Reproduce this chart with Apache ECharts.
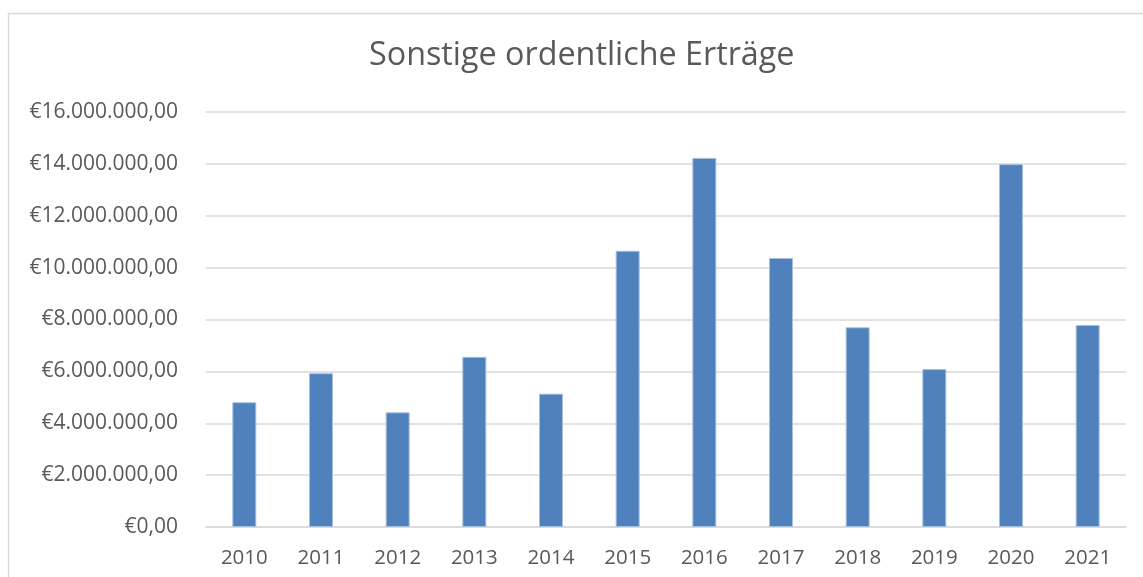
<!DOCTYPE html>
<html>
<head>
<meta charset="utf-8">
<script src="https://cdn.jsdelivr.net/npm/echarts@6/dist/echarts.min.js"></script>
<style>
html,body{margin:0;padding:0;background:#fff;}
#c{width:1143px;height:577px;}
</style>
</head>
<body>
<div id="c"></div>
<script>
const title = "Sonstige ordentliche Erträge";
const categories = ["2010","2011","2012","2013","2014","2015","2016","2017","2018","2019","2020","2021"];
const values = [4810000, 5930000, 4420000, 6560000, 5140000, 10650000, 14230000, 10370000, 7700000, 6090000, 13990000, 7790000];
const yMin = 0, yMax = 16000000, yStep = 2000000;

function euro(v){
  const s = Math.round(v).toString().replace(/\B(?=(\d{3})+(?!\d))/g, ".");
  return "€" + s + ",00";
}

const chart = echarts.init(document.getElementById('c'), null, {renderer:'canvas'});
chart.setOption({
  animation:false,
  backgroundColor:'#ffffff',
  title:{
    text:title, left:364, top:35,
    textStyle:{fontFamily:'Open Sans', fontWeight:'normal', fontSize:32.3, color:'#595959'}
  },
  graphic:[{
    type:'rect', silent:true,
    shape:{x:8.5, y:13.5, width:1200, height:700},
    style:{fill:'none', stroke:'#d9d9d9', lineWidth:1.5}
  }],
  grid:{left:206, right:17, top:112, bottom:50, containLabel:false},
  xAxis:{
    type:'category', data:categories,
    axisLine:{show:true, lineStyle:{color:'#d9d9d9', width:1.5}},
    axisTick:{show:false},
    axisLabel:{color:'#595959', fontSize:20.5, fontFamily:'Open Sans', margin:21}
  },
  yAxis:{
    type:'value', min:yMin, max:yMax, interval:yStep,
    axisLine:{show:false}, axisTick:{show:false},
    splitLine:{lineStyle:{color:'#d9d9d9', width:1.5}},
    axisLabel:{color:'#595959', fontSize:21, fontFamily:'Open Sans', margin:28, formatter:euro}
  },
  series:[{
    type:'bar', data:values, barWidth:24,
    itemStyle:{color:'#4f81bd', borderColor:'#a7c0de', borderWidth:1}
  }]
});
</script>
</body>
</html>
